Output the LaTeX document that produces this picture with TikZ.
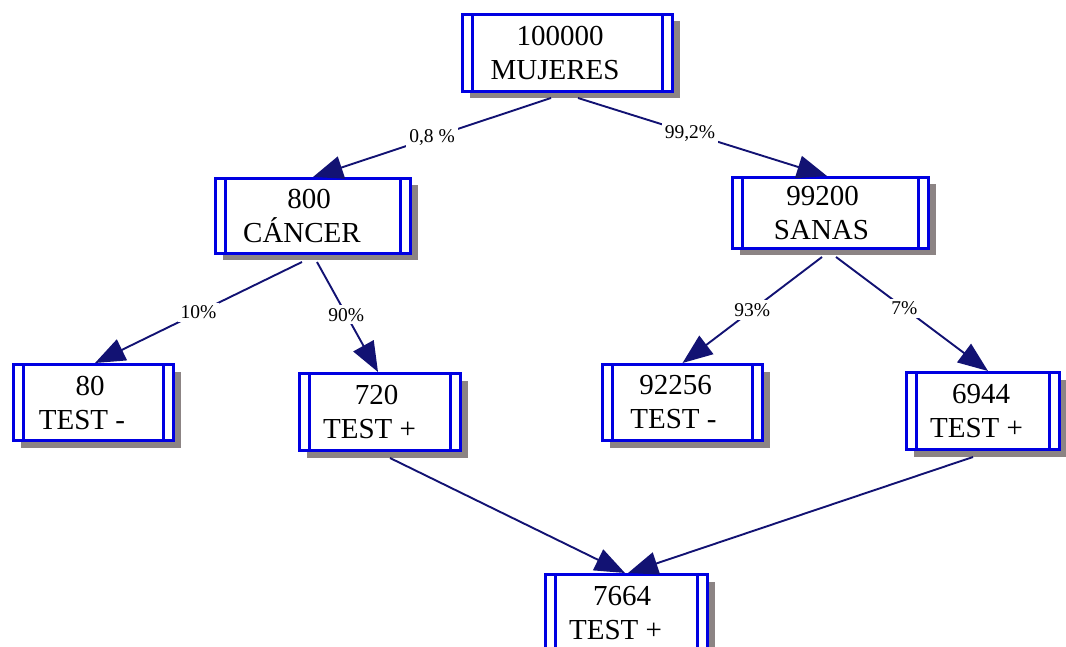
\documentclass[tikz,border=0pt]{standalone}
\usepackage{fontspec}
\setmainfont{Liberation Serif}
\usetikzlibrary{arrows.meta,shadows}
\definecolor{boxblue}{RGB}{0,0,225}
\definecolor{edgenavy}{RGB}{18,18,115}
\definecolor{shadowgray}{RGB}{140,132,132}
\tikzset{
  pbox/.style={draw=boxblue, line width=3pt, fill=white, inner sep=0pt,
    align=center, font=\fontsize{29}{34}\selectfont,
    drop shadow={shadow xshift=7pt, shadow yshift=-7pt, fill=shadowgray, opacity=1},
    path picture={
      \draw[boxblue, line width=3pt]
        ([xshift=10pt]path picture bounding box.north west) -- ([xshift=10pt]path picture bounding box.south west)
        ([xshift=-10pt]path picture bounding box.north east) -- ([xshift=-10pt]path picture bounding box.south east);
    }},
  conn/.style={draw=edgenavy, line width=1.9pt, -{Triangle[length=30pt,width=23pt]}, edgenavy},
  lbl/.style={fill=white, inner sep=3pt, text=black, font=\fontsize{19.5}{22}\selectfont}
}
\begin{document}
\begin{tikzpicture}[x=1pt,y=-1pt]
\useasboundingbox (0,0) rectangle (1066,647);
\node[pbox, minimum width=210pt, minimum height=77pt] (top) at (567.5,53) {100000\hspace*{15pt}\\MUJERES\hspace*{25pt}};
\node[pbox, minimum width=195pt, minimum height=75pt] (cancer) at (313,216) {800\hspace*{8pt}\\CÁNCER\hspace*{22pt}};
\node[pbox, minimum width=196pt, minimum height=71pt] (sanas) at (830.5,213) {99200\hspace*{16pt}\\SANAS\hspace*{18pt}};
\node[pbox, minimum width=160pt, minimum height=76pt] (t80) at (93.5,402.5) {80\hspace*{7pt}\\TEST -\hspace*{23pt}};
\node[pbox, minimum width=161pt, minimum height=77pt] (t720) at (380,412) {720\hspace*{7pt}\\TEST +\hspace*{21pt}};
\node[pbox, minimum width=160pt, minimum height=76pt] (t92256) at (682.5,402.5) {92256\hspace*{14pt}\\TEST -\hspace*{18pt}};
\node[pbox, minimum width=153pt, minimum height=77pt] (t6944) at (983,411) {6944\hspace*{4pt}\\TEST +\hspace*{13pt}};
\node[pbox, minimum width=162pt, minimum height=77pt] (t7664) at (626.5,613) {7664\hspace*{9pt}\\TEST +\hspace*{22pt}};

\draw[conn] ([xshift=-16.5pt,yshift=-5pt]top.south) -- node[lbl, pos=0.5] {0,8 \%} (cancer.north);
\draw[conn] ([xshift=10.5pt,yshift=-5pt]top.south) -- node[lbl, pos=0.45] {99,2\%} ([xshift=-3.5pt]sanas.north);
\draw[conn] ([xshift=-11pt,yshift=-7pt]cancer.south) -- node[lbl, pos=0.5] {10\%} ([xshift=1.5pt]t80.north);
\draw[conn] ([xshift=4pt,yshift=-7pt]cancer.south) -- node[lbl, pos=0.48] {90\%} ([xshift=-2pt]t720.north);
\draw[conn] ([xshift=-8.5pt,yshift=-7pt]sanas.south) -- node[lbl, pos=0.5] {93\%} (t92256.north);
\draw[conn] ([xshift=5.5pt,yshift=-7pt]sanas.south) -- node[lbl, pos=0.45] {7\%} ([xshift=5pt]t6944.north);
\draw[conn] ([xshift=10pt,yshift=-6pt]t720.south) -- ([xshift=-1.5pt]t7664.north);
\draw[conn] ([xshift=-10pt,yshift=-6pt]t6944.south) -- ([xshift=1.5pt]t7664.north);
\end{tikzpicture}
\end{document}
